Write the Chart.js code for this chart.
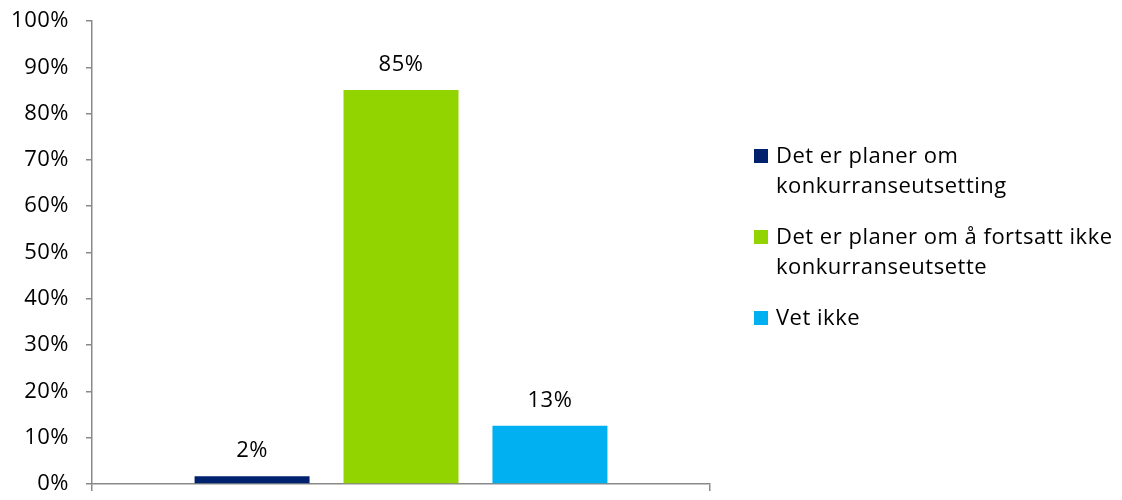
<!DOCTYPE html>
<html>
<head>
<meta charset="utf-8">
<script src="https://cdn.jsdelivr.net/npm/chart.js@4"></script>
<style>
  html, body { margin: 0; padding: 0; background: #fff; }
  #wrap { position: relative; width: 1122px; height: 500px; }
  #c { position: absolute; left: 0; top: 0; }
  #legend { position: absolute; left: 754px; top: 139px; font-family: "Open Sans", Lato, sans-serif; font-size: 22px; letter-spacing: 0.5px; color: #000; }
  .item { position: relative; padding-left: 22px; line-height: 30px; margin-bottom: 21px; width: 368px; white-space: nowrap; }
  .sw { position: absolute; left: 0; top: 10px; width: 14px; height: 14px; }
</style>
</head>
<body>
<div id="wrap">
  <canvas id="c" width="1122" height="500"></canvas>
  <div id="legend"></div>
</div>
<script>
const categories = [''];
const seriesNames = [
  ['Det er planer om', 'konkurranseutsetting'],
  ['Det er planer om å fortsatt ikke', 'konkurranseutsette'],
  ['Vet ikke']
];
const seriesValues = [1.7, 85.1, 12.6];
const seriesLabels = ['2%', '85%', '13%'];
const seriesColors = ['#00226E', '#92D400', '#00B0F0'];
const yTicks = [0, 10, 20, 30, 40, 50, 60, 70, 80, 90, 100];

const FONT = '"Open Sans", Lato, sans-serif';
const AXIS = '#898989';

const spacingPlugin = {
  id: 'spacing',
  beforeDraw(chart) { chart.ctx.letterSpacing = '0.5px'; }
};

const labelPlugin = {
  id: 'barLabels',
  afterDatasetsDraw(chart) {
    const ctx = chart.ctx;
    ctx.save();
    ctx.font = '22px ' + FONT;
    ctx.letterSpacing = '0.5px';
    ctx.fillStyle = '#000';
    ctx.textAlign = 'center';
    ctx.textBaseline = 'alphabetic';
    chart.data.datasets.forEach((ds, i) => {
      const bar = chart.getDatasetMeta(i).data[0];
      ctx.fillText(seriesLabels[i], bar.x, bar.y - 19);
    });
    ctx.restore();
  }
};

new Chart(document.getElementById('c'), {
  type: 'bar',
  data: {
    labels: categories,
    datasets: seriesValues.map((v, i) => ({
      label: seriesNames[i].join(' '),
      data: [v],
      backgroundColor: seriesColors[i],
      borderWidth: 0
    }))
  },
  options: {
    responsive: false,
    animation: false,
    devicePixelRatio: 1,
    layout: { padding: { left: 0, right: 412, top: 21, bottom: 0 } },
    datasets: { bar: { categoryPercentage: 0.723, barPercentage: 0.772 } },
    plugins: { legend: { display: false }, tooltip: { enabled: false } },
    scales: {
      x: {
        grid: { offset: true, drawOnChartArea: false, drawTicks: true, tickLength: 7, color: AXIS, lineWidth: 1.5 },
        border: { color: AXIS, width: 1.5 },
        ticks: { display: false },
        afterFit(s) { s.height = 16; s.paddingLeft = 0; s.paddingRight = 0; }
      },
      y: {
        min: 0, max: 100,
        afterBuildTicks(s) { s.ticks = yTicks.map(v => ({ value: v })); },
        grid: { drawOnChartArea: false, drawTicks: true, tickLength: 6, color: AXIS, lineWidth: 1.5 },
        border: { color: AXIS, width: 1.5 },
        ticks: { font: { family: FONT, size: 22 }, color: '#000', padding: 17, callback: v => v + '%' },
        afterFit(s) { s.width = 92; s.paddingTop = 0; s.paddingBottom = 0; }
      }
    }
  },
  plugins: [spacingPlugin, labelPlugin]
});

const legend = document.getElementById('legend');
seriesNames.forEach((lines, i) => {
  const item = document.createElement('div');
  item.className = 'item';
  const sw = document.createElement('span');
  sw.className = 'sw';
  sw.style.background = seriesColors[i];
  item.appendChild(sw);
  lines.forEach((t, j) => {
    if (j) item.appendChild(document.createElement('br'));
    item.appendChild(document.createTextNode(t));
  });
  legend.appendChild(item);
});
</script>
</body>
</html>
